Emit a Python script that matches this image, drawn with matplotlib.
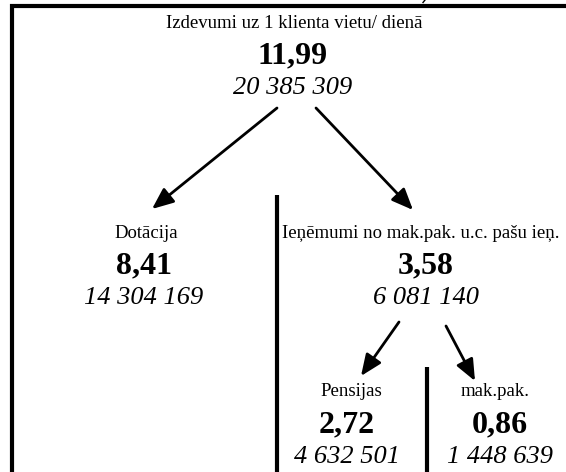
import matplotlib.pyplot as plt

plt.rcParams['font.family'] = ['Liberation Serif', 'DejaVu Serif']

# node data
labels = ["Izdevumi uz 1 klienta vietu/ dienā", "Dotācija",
          "Ieņēmumi no mak.pak. u.c. pašu ieņ.", "Pensijas", "mak.pak."]
per_day = ["11,99", "8,41", "3,58", "2,72", "0,86"]
totals = ["20 385 309", "14 304 169", "6 081 140", "4 632 501", "1 448 639"]
# parent index of each node (-1 = root)
parents = [-1, 0, 0, 2, 2]

# layout (pixels): label centre, value centre, total centre
label_x = [294, 146, 421, 351, 495]
num_x = [293, 144, 426, 347, 500]
node_y = [23, 233, 233, 392, 392]

fig = plt.figure(figsize=(5.66, 4.72), dpi=100)
ax = fig.add_axes([0, 0, 1, 1])
ax.set_xlim(0, 566)
ax.set_ylim(472, 0)
ax.axis("off")

for lab, val, tot, lx, nx, y in zip(labels, per_day, totals, label_x, num_x, node_y):
    ax.text(lx, y, lab, ha="center", va="center", fontsize=13.5)
    ax.text(nx, y + 33, val, ha="center", va="center", fontsize=23,
            fontweight="bold")
    ax.text(nx, y + 65, tot, ha="center", va="center", fontsize=19,
            style="italic")

# arrows from parent to child
arrow_start = {0: [(277, 108), (316, 108)], 2: [(399, 322), (446, 326)]}
arrow_end = {1: (152, 209), 2: (413, 210), 3: (361, 376), 4: (475, 381)}
count = {0: 0, 2: 0}
for i, p in enumerate(parents):
    if p < 0:
        continue
    start = arrow_start[p][count[p]]
    count[p] += 1
    ax.annotate("", xy=arrow_end[i], xytext=start,
                arrowprops=dict(arrowstyle="-|>,head_length=1.3,head_width=0.55",
                                color="black", lw=2, shrinkA=0, shrinkB=0))

# frame and separators
ax.plot([11.5, 11.5, 566], [472, 5.5, 5.5], color="black", lw=3,
        solid_capstyle="butt", solid_joinstyle="miter")
ax.plot([276.5, 276.5], [195, 472], color="black", lw=3, solid_capstyle="butt")
ax.plot([426.5, 426.5], [367, 472], color="black", lw=3, solid_capstyle="butt")
# small clipped mark above the frame
ax.plot([425, 423], [0, 2.5], color="black", lw=1)

fig.savefig("out.png", dpi=100)
